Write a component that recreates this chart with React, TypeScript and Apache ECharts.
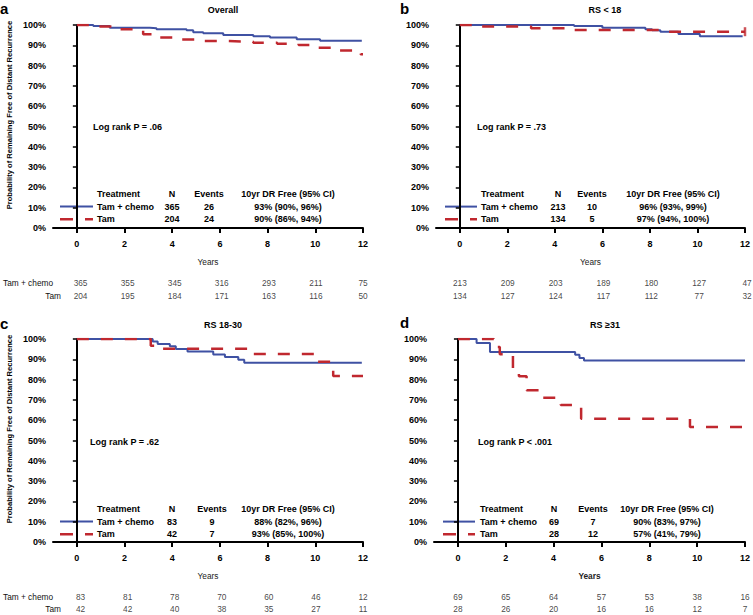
import React, { useEffect, useRef } from "react";
import * as echarts from "echarts";

const FONT = '"Liberation Sans", Arial, Helvetica, sans-serif';
const BLUE = "#3f51a3";
const RED = "#c0282f";

const years = [0, 2, 4, 6, 8, 10, 12];
const groups = ["Tam + chemo", "Tam"];
const titles = ["Overall", "RS < 18", "RS 18-30", "RS \u226531"];
const panelLetters = ["a", "b", "c", "d"];
const logRankTexts = ["Log rank P = .06", "Log rank P = .73", "Log rank P = .62", "Log rank P < .001"];
const legendHeaders = ["Treatment", "N", "Events", "10yr DR Free (95% CI)"];

// Kaplan-Meier curves [years, % free of distant recurrence]
const overallChemo = [[0, 100], [0.69, 99.5], [1.38, 98.7], [3.06, 98.4], [3.34, 97.9], [4.6, 97.4], [4.88, 96.4], [5.3, 95.9], [6.14, 95.1], [7.4, 94.4], [8.1, 93.8], [9.22, 93.0], [10.2, 92.3], [11.95, 92.3]];
const overallTam = [[0, 100], [0.9, 99.3], [1.7, 97.9], [2.78, 95.4], [3.3, 93.8], [4.2, 92.8], [5.1, 92.1], [6.2, 91.8], [7.4, 91.3], [8.4, 90.8], [9.3, 90.1], [10.1, 88.8], [11.0, 87.5], [11.9, 85.6], [12, 85.6]];
const lowChemo = [[0, 100], [4.81, 99.5], [6.0, 98.7], [7.81, 97.9], [8.09, 97.4], [8.44, 96.7], [9.2, 95.6], [10.1, 94.4], [11.9, 94.4]];
const lowTam = [[0, 100], [0.6, 99.2], [3.0, 98.4], [4.8, 97.5], [8.8, 96.7], [12, 96.7]];
const lowTamCensor = [[12, 96.7]];
const midChemo = [[0, 100], [3.18, 98.8], [3.39, 97.5], [3.9, 96.4], [4.15, 95.1], [4.64, 93.8], [5.72, 92.4], [6.21, 91.1], [6.77, 89.8], [7.02, 88.3], [11.95, 88.3]];
const midTam = [[0, 100], [3.1, 96.7], [3.3, 95.2], [7.3, 92.6], [10.1, 88.8], [10.75, 81.8], [12, 81.8]];
const highChemo = [[0, 100], [0.78, 98.0], [1.34, 93.6], [4.9, 92.3], [5.08, 90.7], [5.27, 89.4], [12, 89.4]];
const highTam = [[0, 100], [1.5, 96.0], [1.75, 92.5], [2.3, 85.0], [2.55, 81.7], [2.87, 74.7], [3.55, 71.1], [4.3, 67.5], [5.15, 60.7], [9.7, 56.7], [12, 56.7]];

// Numbers at risk
const riskOverallChemo = [365, 355, 345, 316, 293, 211, 75];
const riskOverallTam = [204, 195, 184, 171, 163, 116, 50];
const riskLowChemo = [213, 209, 203, 189, 180, 127, 47];
const riskLowTam = [134, 127, 124, 117, 112, 77, 32];
const riskMidChemo = [83, 81, 78, 70, 60, 46, 12];
const riskMidTam = [42, 42, 40, 38, 35, 27, 11];
const riskHighChemo = [69, 65, 64, 57, 53, 38, 16];
const riskHighTam = [28, 26, 20, 16, 16, 12, 7];

// Legend table values
const legendN = [[365, 204], [213, 134], [83, 42], [69, 28]];
const legendEvents = [[26, 24], [10, 5], [9, 7], [7, 12]];
const legendCI = [
  ["93% (90%, 96%)", "90% (86%, 94%)"],
  ["96% (93%, 99%)", "97% (94%, 100%)"],
  ["88% (82%, 96%)", "93% (85%, 100%)"],
  ["90% (83%, 97%)", "57% (41%, 79%)"],
];

const curvesChemo = [overallChemo, lowChemo, midChemo, highChemo];
const curvesTam = [overallTam, lowTam, midTam, highTam];
const censorsTam = [[], lowTamCensor, [], []];
const risksChemo = [riskOverallChemo, riskLowChemo, riskMidChemo, riskHighChemo];
const risksTam = [riskOverallTam, riskLowTam, riskMidTam, riskHighTam];

// layout per panel
const layout = [
  { left: 53, width: 310, top: 25, riskTop: 276.5, riskH: 26.6, showRiskLabels: true, letterX: 0, letterY: 8, titleX: 223, titleY: 10, lrX: 93, lrY: 127, lineX: 60, lineW: 33, cols: [97, 172, 209, 288], legY: 194, rowGap: 12.6, yearsBold: false, yName: true },
  { left: 436, width: 311, top: 25, riskTop: 276.5, riskH: 26.6, showRiskLabels: false, letterX: 400, letterY: 8, titleX: 605, titleY: 10, lrX: 477, lrY: 127, lineX: 445, lineW: 32, cols: [481, 558, 592, 673], legY: 194, rowGap: 12.6, yearsBold: false, yName: false },
  { left: 53, width: 310, top: 339, riskTop: 591.6, riskH: 24.6, showRiskLabels: true, letterX: 0, letterY: 323, titleX: 223, titleY: 325, lrX: 90, lrY: 442, lineX: 60, lineW: 33, cols: [97, 172, 212, 288], legY: 509, rowGap: 12.6, yearsBold: false, yName: true },
  { left: 434, width: 311, top: 339, riskTop: 591.6, riskH: 24.6, showRiskLabels: false, letterX: 400, letterY: 322, titleX: 605, titleY: 325, lrX: 478, lrY: 442, lineX: 443, lineW: 32, cols: [480, 554, 593, 667], legY: 509, rowGap: 12.6, yearsBold: true, yName: false },
];

function buildOption() {
  const grid: any[] = [];
  const xAxis: any[] = [];
  const yAxis: any[] = [];
  const series: any[] = [];
  const graphic: any[] = [];

  layout.forEach((L, i) => {
    const g = i * 2;
    grid.push({ left: L.left, top: L.top, width: L.width, height: 203, containLabel: false });
    grid.push({ left: L.left, top: L.riskTop, width: L.width, height: L.riskH, containLabel: false });

    xAxis.push({
      gridIndex: g, type: "value", min: -1, max: 12,
      axisLine: { show: true, lineStyle: { color: "#000", width: 2 } },
      axisTick: { show: true, customValues: years, length: 5, lineStyle: { color: "#000", width: 2 } },
      axisLabel: { customValues: years, color: "#000", fontSize: 9, fontWeight: "bold", fontFamily: FONT, margin: 11 },
      splitLine: { show: false },
      name: "Years", nameLocation: "middle", nameGap: 30,
      nameTextStyle: { color: "#222", fontSize: 8.3, fontWeight: L.yearsBold ? "bold" : "normal", fontFamily: FONT },
    });
    xAxis.push({ gridIndex: g + 1, type: "value", min: -1, max: 12, show: false });

    yAxis.push({
      gridIndex: g, type: "value", min: 0, max: 100, interval: 10,
      axisLine: { show: true, lineStyle: { color: "#000", width: 2 } },
      axisTick: { show: true, length: 4, lineStyle: { color: "#000", width: 1.5 } },
      axisLabel: { formatter: "{value}%", color: "#000", fontSize: 9, fontWeight: "bold", fontFamily: FONT, margin: 7 },
      splitLine: { show: false },
    });
    yAxis.push({
      gridIndex: g + 1, type: "category", data: groups, inverse: true,
      axisLine: { show: false }, axisTick: { show: false }, splitLine: { show: false },
      axisLabel: {
        show: L.showRiskLabels, color: "#111", fontSize: 8.3, fontFamily: FONT, margin: -4,
        formatter: (v: string) => (v === "Tam" ? v : `{c|${v}}`),
        rich: { c: { fontSize: 8.3, fontFamily: FONT, color: "#111", padding: [0, 8, 0, 0] } },
      },
    });

    series.push({
      type: "line", xAxisIndex: g, yAxisIndex: g, step: "end", showSymbol: false, symbol: "none",
      data: curvesChemo[i], lineStyle: { color: BLUE, width: 2 }, z: 3,
    });
    series.push({
      type: "line", xAxisIndex: g, yAxisIndex: g, step: "end", showSymbol: false, symbol: "none",
      data: curvesTam[i], lineStyle: { color: RED, width: 2.5, type: [12, 12] }, z: 4,
    });
    if (censorsTam[i].length) {
      series.push({
        type: "scatter", xAxisIndex: g, yAxisIndex: g, symbol: "rect", symbolSize: [2.5, 9],
        itemStyle: { color: RED }, data: censorsTam[i], z: 5,
      });
    }

    const riskData: any[] = [];
    years.forEach((yr, j) => {
      riskData.push([yr, groups[0], risksChemo[i][j]]);
      riskData.push([yr, groups[1], risksTam[i][j]]);
    });
    series.push({
      type: "scatter", xAxisIndex: g + 1, yAxisIndex: g + 1, symbolSize: 1,
      itemStyle: { color: "transparent" },
      data: riskData,
      label: {
        show: true, position: "inside", formatter: (p: any) => String(p.value[2]),
        color: "#111", fontSize: 8.3, fontFamily: FONT,
      },
    });

    // panel letter and title
    graphic.push({ type: "text", x: L.letterX, y: L.letterY, style: { text: panelLetters[i], fontSize: 15, fontWeight: "bold", fontFamily: FONT, fill: "#000", textVerticalAlign: "middle" } });
    graphic.push({ type: "text", x: L.titleX, y: L.titleY, style: { text: titles[i], fontSize: 9, fontWeight: "bold", fontFamily: FONT, fill: "#000", textAlign: "center", textVerticalAlign: "middle" } });
    graphic.push({ type: "text", x: L.lrX, y: L.lrY, style: { text: logRankTexts[i], fontSize: 9, fontWeight: "bold", fontFamily: FONT, fill: "#000", textVerticalAlign: "middle" } });

    if (L.yName) {
      graphic.push({
        type: "text", x: 9, y: L.top + 90, rotation: Math.PI / 2,
        style: { text: "Probability of Remaining Free of Distant Recurrence", fontSize: 7.6, fontWeight: "bold", fontFamily: FONT, fill: "#000", textAlign: "center", textVerticalAlign: "middle" },
      });
    }

    // legend table
    const bold = { fontSize: 9, fontWeight: "bold", fontFamily: FONT, fill: "#000", textVerticalAlign: "middle" };
    legendHeaders.forEach((h, k) => {
      graphic.push({ type: "text", x: L.cols[k], y: L.legY, style: { ...bold, text: h, textAlign: k === 0 ? "left" : "center" } });
    });
    [0, 1].forEach((r) => {
      const yy = L.legY + L.rowGap * (r + 1);
      graphic.push({ type: "text", x: L.cols[0], y: yy, style: { ...bold, text: groups[r], textAlign: "left" } });
      graphic.push({ type: "text", x: L.cols[1], y: yy, style: { ...bold, text: String(legendN[i][r]), textAlign: "center" } });
      graphic.push({ type: "text", x: L.cols[2], y: yy, style: { ...bold, text: String(legendEvents[i][r]), textAlign: "center" } });
      graphic.push({ type: "text", x: L.cols[3], y: yy, style: { ...bold, text: legendCI[i][r], textAlign: "center" } });
    });
    graphic.push({ type: "line", shape: { x1: L.lineX, y1: L.legY + L.rowGap, x2: L.lineX + L.lineW, y2: L.legY + L.rowGap }, style: { stroke: BLUE, lineWidth: 2 } });
    graphic.push({ type: "line", shape: { x1: L.lineX, y1: L.legY + L.rowGap * 2, x2: L.lineX + L.lineW, y2: L.legY + L.rowGap * 2 }, style: { stroke: RED, lineWidth: 2.5, lineDash: [13, 12] } });
  });

  return { animation: false, backgroundColor: "#fff", grid, xAxis, yAxis, series, graphic };
}

export default function App() {
  const ref = useRef<HTMLDivElement>(null);
  useEffect(() => {
    document.body.style.margin = "0";
    if (!ref.current) return;
    const chart = echarts.init(ref.current, undefined, { renderer: "svg" });
    chart.setOption(buildOption() as any);
    return () => chart.dispose();
  }, []);
  return <div ref={ref} style={{ width: 753, height: 615 }} />;
}
